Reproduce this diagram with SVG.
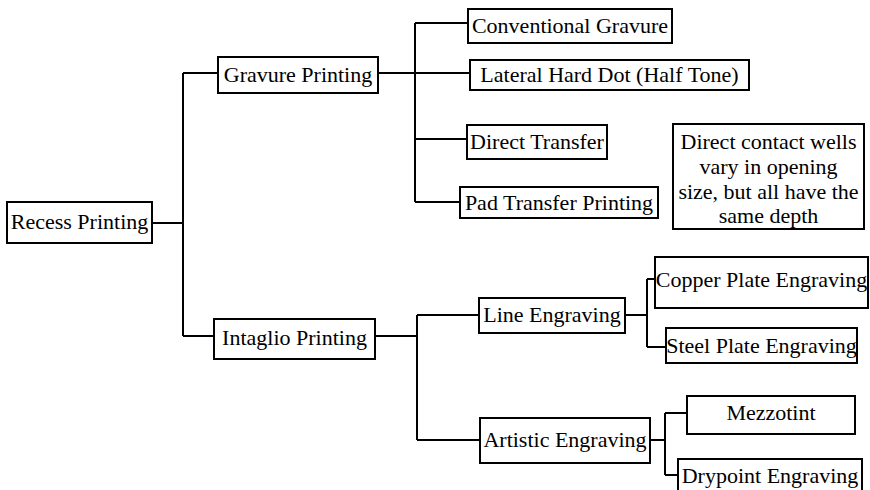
<svg xmlns="http://www.w3.org/2000/svg" width="870" height="490" viewBox="0 0 870 490">
  <style>
    .box { fill: #ffffff; stroke: #000000; stroke-width: 2; }
    .lbl { font-family: "Liberation Serif", "DejaVu Serif", serif; font-size: 22px; fill: #000000; text-anchor: middle; }
    .wire { fill: none; stroke: #000000; stroke-width: 2; }
  </style>
  <rect width="870" height="490" fill="#ffffff"/>

  <g id="connectors">
    <!-- root to first level -->
    <path class="wire" d="M152 223 H183 M183 73 V336 M183 73 H218 M183 336 H214"/>
    <!-- gravure branch -->
    <path class="wire" d="M378 73 H470 M415 23 V202 M415 23 H468 M415 139 H467 M415 202 H460"/>
    <!-- intaglio branch -->
    <path class="wire" d="M375 336 H417 M417 315 V440 M417 315 H479 M417 440 H480"/>
    <!-- line engraving branch -->
    <path class="wire" d="M625 315 H647 M647 279 V347 M647 279 H655 M647 347 H666"/>
    <!-- artistic engraving branch -->
    <path class="wire" d="M650 440 H665 M665 413 V475 M665 413 H687 M665 475 H678"/>
  </g>

  <g id="recess-printing">
    <rect class="box" x="7" y="202" width="145" height="41"/>
    <text class="lbl" x="79.5" y="229">Recess Printing</text>
  </g>
  <g id="gravure-printing">
    <rect class="box" x="218" y="57" width="160" height="36"/>
    <text class="lbl" x="298" y="82">Gravure Printing</text>
  </g>
  <g id="conventional-gravure">
    <rect class="box" x="468" y="9" width="204" height="34"/>
    <text class="lbl" x="570" y="33">Conventional Gravure</text>
  </g>
  <g id="lateral-hard-dot">
    <rect class="box" x="470" y="60" width="279" height="30"/>
    <text class="lbl" x="609.5" y="82">Lateral Hard Dot (Half Tone)</text>
  </g>
  <g id="direct-transfer">
    <rect class="box" x="467" y="125" width="140" height="34"/>
    <text class="lbl" x="537" y="149">Direct Transfer</text>
  </g>
  <g id="pad-transfer-printing">
    <rect class="box" x="460" y="187" width="198" height="31"/>
    <text class="lbl" x="559" y="210">Pad Transfer Printing</text>
  </g>
  <g id="note">
    <rect class="box" x="673" y="124" width="191" height="105"/>
    <text class="lbl" x="768.5" y="149">Direct contact wells</text>
    <text class="lbl" x="768.5" y="174">vary in opening</text>
    <text class="lbl" x="768.5" y="199">size, but all have the</text>
    <text class="lbl" x="768.5" y="223">same depth</text>
  </g>
  <g id="intaglio-printing">
    <rect class="box" x="214" y="319" width="161" height="40"/>
    <text class="lbl" x="294.5" y="345">Intaglio Printing</text>
  </g>
  <g id="line-engraving">
    <rect class="box" x="479" y="298" width="146" height="35"/>
    <text class="lbl" x="552" y="322">Line Engraving</text>
  </g>
  <g id="copper-plate-engraving">
    <rect class="box" x="655" y="257" width="213" height="51"/>
    <text class="lbl" x="761.5" y="287">Copper Plate Engraving</text>
  </g>
  <g id="steel-plate-engraving">
    <rect class="box" x="666" y="328" width="191" height="35"/>
    <text class="lbl" x="761.5" y="353">Steel Plate Engraving</text>
  </g>
  <g id="artistic-engraving">
    <rect class="box" x="480" y="418" width="170" height="45"/>
    <text class="lbl" x="565" y="447">Artistic Engraving</text>
  </g>
  <g id="mezzotint">
    <rect class="box" x="687" y="396" width="168" height="38"/>
    <text class="lbl" x="771" y="420">Mezzotint</text>
  </g>
  <g id="drypoint-engraving">
    <rect class="box" x="678" y="459" width="184" height="40"/>
    <text class="lbl" x="770" y="483">Drypoint Engraving</text>
  </g>
</svg>
